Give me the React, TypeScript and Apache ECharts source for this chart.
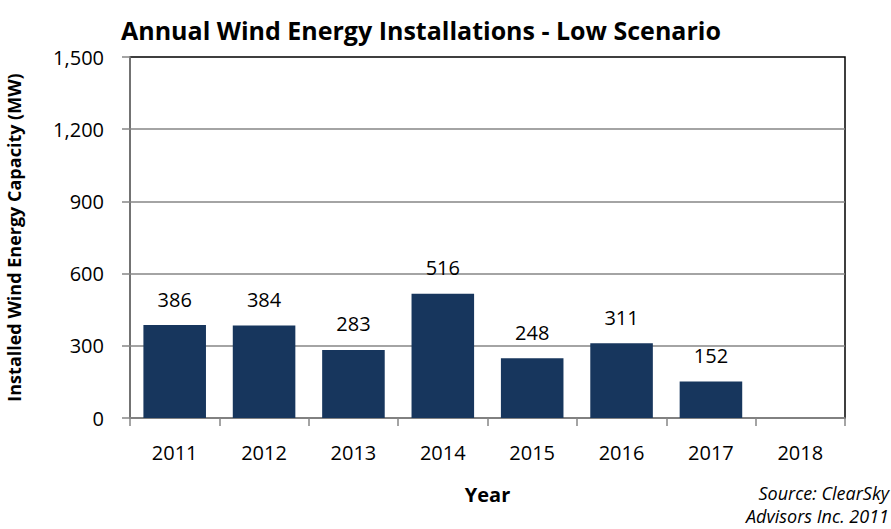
import React, { useEffect, useRef } from "react";
import * as echarts from "echarts";

const years = ["2011", "2012", "2013", "2014", "2015", "2016", "2017", "2018"];
const installations: (number | null)[] = [386, 384, 283, 516, 248, 311, 152, null];
const yTicks = [0, 300, 600, 900, 1200, 1500];
const sourceLines = ["Source: ClearSky", "Advisors Inc. 2011"];

const FONT = "'Open Sans', Lato, sans-serif";

export default function App() {
  const ref = useRef<HTMLDivElement>(null);
  useEffect(() => {
    if (!ref.current) return;
    const chart = echarts.init(ref.current, null, { renderer: "svg" });
    chart.setOption({
      animation: false,
      backgroundColor: "#ffffff",
      title: {
        text: "Annual Wind Energy Installations - Low Scenario",
        left: 116,
        top: 12,
        textStyle: { fontFamily: FONT, fontWeight: "bold", fontSize: 25, color: "#000" },
      },
      grid: {
        left: 130,
        right: 46,
        top: 57,
        bottom: 111,
        show: true,
        borderColor: "#000",
        borderWidth: 1.5,
        backgroundColor: "transparent",
        containLabel: false,
        outerBoundsMode: "none",
      },
      xAxis: {
        type: "category",
        data: years,
        name: "Year",
        nameLocation: "middle",
        nameGap: 66,
        nameTextStyle: { fontFamily: FONT, fontWeight: "bold", fontSize: 20, color: "#000" },
        axisLine: { show: true, lineStyle: { color: "#868686", width: 1.5 } },
        axisTick: { show: true, alignWithLabel: false, length: 8, lineStyle: { color: "#868686", width: 1.5 } },
        axisLabel: { fontFamily: FONT, fontSize: 20, color: "#000", margin: 24 },
      },
      yAxis: {
        type: "value",
        min: 0,
        max: 1500,
        interval: 300,
        name: "Installed Wind Energy Capacity (MW)",
        nameLocation: "middle",
        nameGap: 107,
        nameRotate: 90,
        nameTextStyle: { fontFamily: FONT, fontWeight: "bold", fontSize: 18, color: "#000" },
        axisLine: { show: true, lineStyle: { color: "#868686", width: 1.5 } },
        axisTick: { show: true, length: 8, lineStyle: { color: "#868686", width: 1.5 } },
        splitLine: { show: true, showMaxLine: false, lineStyle: { color: "#868686", width: 1.5 } },
        axisLabel: {
          fontFamily: FONT,
          fontSize: 20,
          color: "#000",
          margin: 26,
          formatter: (v: number) => (yTicks.includes(v) ? v.toLocaleString("en-US") : ""),
        },
      },
      series: [
        {
          type: "bar",
          data: installations,
          barWidth: "70%",
          itemStyle: { color: "#17365D" },
          label: {
            show: true,
            position: "top",
            distance: 16,
            fontFamily: FONT,
            fontSize: 20,
            color: "#000",
          },
        },
      ],
      graphic: sourceLines.map((line, i) => ({
        type: "text",
        right: 2,
        top: 484 + i * 23,
        style: {
          text: line,
          fontFamily: FONT,
          fontStyle: "italic",
          fontSize: 18,
          fill: "#000",
        },
      })),
    });
    return () => chart.dispose();
  }, []);
  return <div ref={ref} style={{ width: 891, height: 529, position: "absolute", left: 0, top: 0 }} />;
}
